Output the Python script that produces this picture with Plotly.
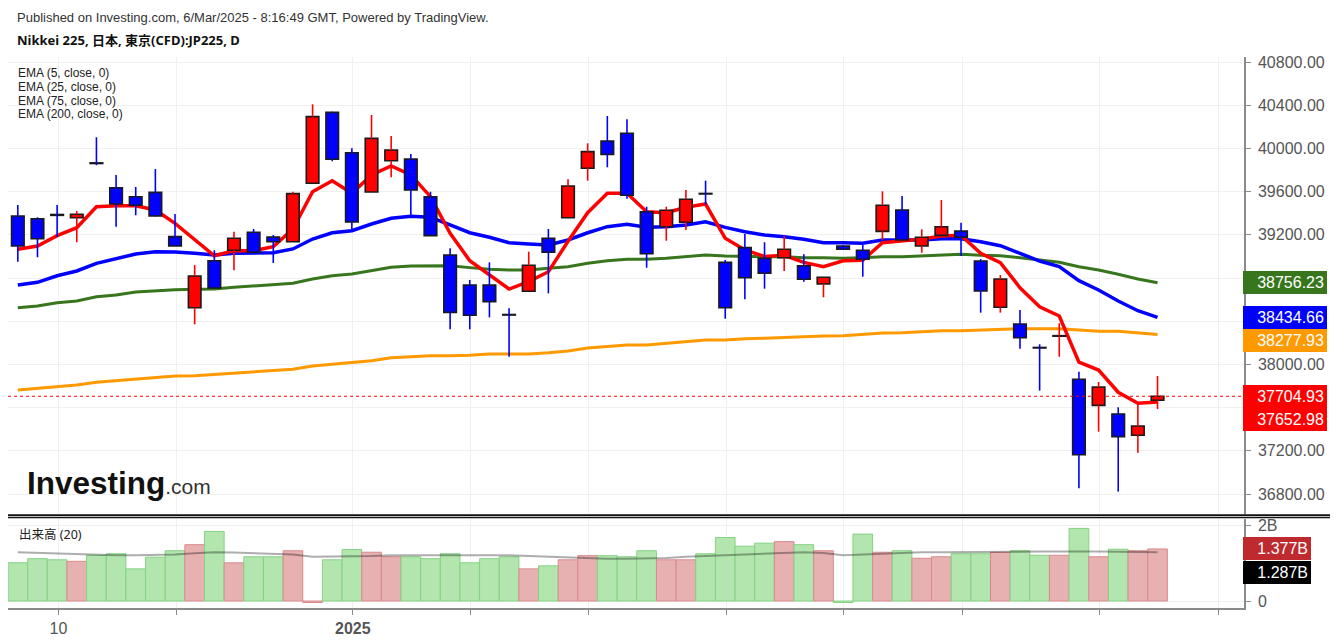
import plotly.graph_objects as go

# ---------------- data ----------------
opens = [39374, 39349, 39388, 39358, 39866, 39636, 39553, 39593, 39183, 38525,
         38960, 39057, 39223, 39180, 39136, 39677, 40334, 39960, 39596, 39886,
         39902, 39553, 39013, 38735, 38735, 38462, 38677, 39168, 39358, 39816,
         40069, 40140, 39414, 39275, 39316, 39583, 38945, 39081, 38982, 38988,
         38914, 38744, 39096, 39057, 39232, 39430, 39096, 39195, 39235, 38957,
         38529, 38374, 38157, 38261, 37862, 37621, 37541, 37344, 37668]
highs = [39476, 39362, 39476, 39420, 40103, 39754, 39643, 39809, 39393, 38920,
         39057, 39229, 39254, 39198, 39599, 40408, 40340, 40001, 40309, 40115,
         39948, 39599, 39075, 38782, 38945, 38519, 39044, 39254, 39714, 40047,
         40300, 40269, 39460, 39460, 39615, 39701, 38967, 39207, 39131, 39192,
         39019, 38810, 39105, 39106, 39603, 39559, 39251, 39522, 39312, 38975,
         38828, 38504, 38186, 38381, 37932, 37837, 37603, 37640, 37893]
lows = [38951, 38992, 39183, 39131, 39844, 39275, 39381, 39370, 39096, 38371,
        38707, 38871, 39038, 38939, 39136, 39677, 39881, 39245, 39596, 39732,
        39383, 39192, 38325, 38325, 38436, 38071, 38677, 38658, 39358, 39701,
        39825, 39534, 38895, 39145, 39245, 39476, 38423, 38603, 38701, 38865,
        38766, 38621, 39060, 38812, 39152, 39152, 39034, 39195, 39004, 38479,
        38479, 38145, 37757, 38071, 36853, 37377, 36822, 37183, 37587]
closes = [39096, 39164, 39380, 39390, 39860, 39485, 39473, 39374, 39096, 38819,
          38707, 39168, 39038, 39136, 39581, 40294, 39899, 39319, 40093, 39985,
          39615, 39192, 38482, 38455, 38581, 38457, 38918, 39038, 39652, 39970,
          39945, 39566, 39025, 39427, 39529, 39578, 38525, 38803, 38844, 39066,
          38788, 38807, 39066, 38973, 39473, 39152, 39177, 39275, 39177, 38680,
          38791, 38247, 38152, 38266, 37164, 37791, 37331, 37430, 37704.93]

ema5 = [39066, 39096, 39192, 39266, 39460, 39469, 39469, 39430, 39306, 39152,
        39006, 39053, 39053, 39090, 39254, 39599, 39701, 39584, 39754, 39837,
        39754, 39553, 39214, 38960, 38828, 38698, 38766, 38858, 39140, 39405,
        39584, 39584, 39414, 39405, 39455, 39485, 39168, 39060, 39000, 39010,
        38945, 38905, 38960, 38965, 39127, 39143, 39160, 39189, 39195, 39029,
        38942, 38710, 38534, 38448, 38020, 37948, 37742, 37640, 37652.98]
ema25 = [38735, 38760, 38821, 38865, 38936, 38982, 39022, 39044, 39041, 39029,
         39013, 39029, 39029, 39034, 39069, 39161, 39219, 39238, 39300, 39353,
         39371, 39362, 39291, 39219, 39177, 39127, 39115, 39106, 39152, 39219,
         39275, 39297, 39269, 39275, 39291, 39321, 39269, 39229, 39198, 39182,
         39158, 39127, 39127, 39121, 39152, 39152, 39152, 39164, 39164, 39136,
         39099, 39029, 38957, 38905, 38775, 38689, 38587, 38497, 38434.66]
ema75 = [38525, 38541, 38571, 38587, 38627, 38643, 38670, 38682, 38692, 38695,
         38698, 38714, 38726, 38738, 38751, 38791, 38821, 38837, 38865, 38899,
         38911, 38914, 38914, 38896, 38881, 38874, 38874, 38890, 38905, 38936,
         38960, 38973, 38973, 38982, 38997, 39013, 39004, 38997, 38997, 38997,
         38988, 38988, 38982, 38988, 38997, 38997, 39004, 39010, 39019, 39010,
         39006, 38988, 38967, 38945, 38905, 38874, 38834, 38791, 38756.23]
ema200 = [37763, 37779, 37794, 37809, 37834, 37849, 37865, 37881, 37893, 37896,
          37908, 37918, 37930, 37942, 37955, 37985, 38001, 38016, 38034, 38062,
          38075, 38081, 38081, 38085, 38096, 38096, 38096, 38108, 38124, 38152,
          38168, 38180, 38180, 38196, 38210, 38226, 38226, 38238, 38242, 38251,
          38257, 38263, 38266, 38279, 38291, 38294, 38303, 38312, 38312, 38319,
          38328, 38331, 38331, 38331, 38319, 38306, 38306, 38294, 38277.93]

volume_b = [1.01, 1.12, 1.09, 1.05, 1.21, 1.25, 0.85, 1.16, 1.33, 1.49,
            1.84, 1.01, 1.17, 1.17, 1.33, -0.04, 1.09, 1.36, 1.29, 1.17,
            1.17, 1.12, 1.25, 1.01, 1.12, 1.17, 0.85, 0.93, 1.09, 1.20,
            1.20, 1.17, 1.33, 1.09, 1.09, 1.25, 1.68, 1.45, 1.53, 1.57,
            1.49, 1.33, -0.04, 1.77, 1.29, 1.33, 1.13, 1.17, 1.25, 1.25,
            1.29, 1.33, 1.21, 1.21, 1.92, 1.17, 1.37, 1.33, 1.377]
vol_ma_b = [1.29, 1.27, 1.25, 1.23, 1.21, 1.21, 1.21, 1.21, 1.23, 1.26,
            1.29, 1.28, 1.26, 1.25, 1.23, 1.17, 1.17, 1.17, 1.19, 1.21,
            1.21, 1.21, 1.21, 1.21, 1.21, 1.21, 1.19, 1.17, 1.17, 1.15,
            1.12, 1.12, 1.12, 1.14, 1.17, 1.19, 1.21, 1.23, 1.25, 1.27,
            1.29, 1.27, 1.21, 1.23, 1.25, 1.27, 1.29, 1.29, 1.29, 1.29,
            1.29, 1.30, 1.31, 1.31, 1.32, 1.31, 1.30, 1.29, 1.287]

x_tick_pos = [2.07, 8.05, 17.05, 23.05, 29.05, 36.08, 42.0, 48.05, 55.07, 61.08]
x_tick_text = ["10", "", "<b>2025</b>", "", "", "", "", "", "", ""]
price_ticks = [36800, 37200, 37600, 38000, 38400, 38800, 39200, 39600, 40000, 40400, 40800]
vol_ticks = [0, 2]
vol_tick_text = ["0", "2B"]

header_text = "Published on Investing.com, 6/Mar/2025 - 8:16:49 GMT, Powered by TradingView."
title_text = "Nikkei 225, 日本, 東京(CFD):JP225, D"
ema_legend = ["EMA (5, close, 0)", "EMA (25, close, 0)", "EMA (75, close, 0)", "EMA (200, close, 0)"]
vol_legend = "出来高 (20)"

# ---------------- styling ----------------
UP, DOWN = "#ff0000", "#0000ff"
EMA_COLORS = ["#ff0000", "#0000ff", "#38761d", "#ff9900"]
W, H = 1336, 641
PL, PR, PT, PB = 8, 1244, 57, 608          # plot area in pixels
MAIN_BOTTOM, VOL_TOP = 514, 519
NUM_FONT = "Liberation Sans, Arial, sans-serif"
TXT_FONT = "Noto Sans, Noto Sans CJK JP, sans-serif"
BOX_PX = 23.5


def px_x(x):
    return (x - PL) / (PR - PL)


def px_y(y):
    return (PB - y) / (PB - PT)


idx = list(range(len(closes)))
up = [c >= o for o, c in zip(opens, closes)]
x_range = [-0.5, -0.5 + (PR - PL) / 19.65]
px_per_price = 0.108
price_per_px = 1 / px_per_price
y_range = [40800 - (MAIN_BOTTOM - 62) * price_per_px, 40800 + (62 - PT) * price_per_px]
vol_px = 37.8
vol_range = [-(PB - 601) / vol_px, (601 - VOL_TOP) / vol_px]


def stacked(values, box_h):
    order = sorted(range(len(values)), key=lambda k: -values[k])
    pos = [None] * len(values)
    prev = None
    for k in order:
        p = values[k] if prev is None else min(values[k], prev - box_h)
        pos[k] = p
        prev = p
    return pos


label_vals = [ema75[-1], ema25[-1], ema200[-1], closes[-1], ema5[-1]]
label_cols = [EMA_COLORS[2], EMA_COLORS[1], EMA_COLORS[3], "#ff0000", "#ff0000"]
label_pos = stacked(label_vals, BOX_PX * price_per_px)

# tick labels hidden behind the value boxes (as in the reference)
price_tick_text = []
for v in price_ticks:
    hidden = any(abs(v - p) * px_per_price < BOX_PX / 2 + 4 for p in label_pos)
    price_tick_text.append("" if hidden else "%.2f" % v)

fig = go.Figure()

# EMA lines (base subplot, drawn below the candles)
for vals, col, w in zip([ema200, ema75, ema25, ema5], EMA_COLORS[::-1], [3, 3, 3.5, 3.5]):
    fig.add_trace(go.Scatter(x=idx, y=vals, mode="lines", line=dict(color=col, width=w),
                             xaxis="x", yaxis="y", hoverinfo="skip"))

# wicks (outside the bodies)
for flag, col in [(True, UP), (False, DOWN)]:
    xs, ys = [], []
    for i, (o, h, l, c) in enumerate(zip(opens, highs, lows, closes)):
        if up[i] != flag:
            continue
        top, bot = max(o, c), min(o, c)
        if h > top:
            xs += [i, i, None]
            ys += [top, h, None]
        if l < bot:
            xs += [i, i, None]
            ys += [bot, l, None]
    fig.add_trace(go.Scatter(x=xs, y=ys, mode="lines", line=dict(color=col, width=1.6),
                             xaxis="x", yaxis="y3", hoverinfo="skip"))

# bodies
fig.add_trace(go.Bar(
    x=idx,
    base=[min(o, c) for o, c in zip(opens, closes)],
    y=[max(abs(c - o), 4) for o, c in zip(opens, closes)],
    width=0.64,
    marker=dict(color=[UP if u else DOWN for u in up], line=dict(color="#1a1a1a", width=1.6)),
    xaxis="x", yaxis="y3", hoverinfo="skip"))

# volume
fig.add_trace(go.Bar(
    x=idx, y=volume_b, width=1.0,
    marker=dict(color=["#e7b1b2" if u else "#b2e6ae" for u in up],
                line=dict(color=["#d98a8c" if u else "#84d282" for u in up], width=1)),
    xaxis="x2", yaxis="y2", hoverinfo="skip"))
fig.add_trace(go.Scatter(x=idx, y=vol_ma_b, mode="lines",
                         line=dict(color="rgba(0,0,0,0.32)", width=2),
                         xaxis="x2", yaxis="y2", hoverinfo="skip"))

GRID = "#f0f0f0"
AXC = "#8a8a8a"
fig.update_layout(
    template="none",
    width=W, height=H, showlegend=False, barmode="overlay",
    margin=dict(l=PL, r=W - PR, t=PT, b=H - PB, autoexpand=False),
    paper_bgcolor="white", plot_bgcolor="white",
    xaxis=dict(domain=[0, 1], range=x_range, anchor="y", tickvals=x_tick_pos, automargin=False,
               showticklabels=False, ticks="", showgrid=True, gridcolor=GRID, zeroline=False,
               showline=False),
    yaxis=dict(domain=[px_y(MAIN_BOTTOM), 1], range=y_range, side="right", anchor="x",
               automargin=False,
               tickvals=price_ticks, ticktext=price_tick_text, ticks="outside", ticklen=5,
               tickcolor=AXC, showline=True, linecolor=AXC, linewidth=1.5,
               showgrid=True, gridcolor=GRID, zeroline=False, ticklabelstandoff=4,
               tickfont=dict(family=NUM_FONT, size=16, color="#555")),
    yaxis3=dict(overlaying="y", range=y_range, visible=False, side="right", automargin=False),
    xaxis2=dict(domain=[0, 1], range=x_range, anchor="y2", tickvals=x_tick_pos, automargin=False,
                ticktext=x_tick_text, ticks="outside", ticklen=5, tickcolor=AXC,
                showline=True, linecolor=AXC, linewidth=2, showgrid=True, gridcolor=GRID,
                zeroline=False, tickfont=dict(family=NUM_FONT, size=16, color="#555")),
    yaxis2=dict(domain=[0, px_y(VOL_TOP)], range=vol_range, side="right", anchor="x2",
                automargin=False,
                tickvals=vol_ticks, ticktext=vol_tick_text, ticks="outside", ticklen=5,
                tickcolor=AXC, showline=True, linecolor=AXC, linewidth=1.5,
                showgrid=True, gridcolor=GRID, zeroline=False, ticklabelstandoff=4,
                tickfont=dict(family=NUM_FONT, size=16, color="#555")),
)

# last price dotted line
fig.add_shape(type="line", xref="paper", x0=0, x1=1, yref="y", y0=closes[-1], y1=closes[-1],
              line=dict(color="#ff0000", width=1, dash="dot"), layer="above")
# panel separator
for yy, lw in [(515.3, 2), (517.6, 1.3)]:
    fig.add_shape(type="line", xref="paper", yref="paper", x0=0, x1=px_x(1330),
                  y0=px_y(yy), y1=px_y(yy), line=dict(color="#111", width=lw), layer="above")

ann = []
ann.append(dict(text=header_text, x=px_x(15), y=px_y(17), xref="paper", yref="paper",
                xanchor="left", yanchor="middle", showarrow=False,
                font=dict(family=NUM_FONT, size=13, color="#333")))
ann.append(dict(text="<b>" + title_text + "</b>", x=px_x(15), y=px_y(40), xref="paper", yref="paper",
                xanchor="left", yanchor="middle", showarrow=False,
                font=dict(family=TXT_FONT, size=13, color="#111")))
for k, t in enumerate(ema_legend):
    ann.append(dict(text=t, x=px_x(17), y=px_y(72.7 + 13.9 * k), xref="paper", yref="paper",
                    xanchor="left", yanchor="middle", showarrow=False, borderpad=0,
                    font=dict(family=NUM_FONT, size=12, color="#222")))
ann.append(dict(text=vol_legend, x=px_x(17), y=px_y(534), xref="paper", yref="paper",
                xanchor="left", yanchor="middle", showarrow=False,
                font=dict(family=TXT_FONT, size=12.5, color="#222")))
# logo
ann.append(dict(text="<b>Investing</b><span style='font-size:21px;font-weight:normal;color:#333'>.com</span>",
                x=px_x(25), y=px_y(483), xref="paper", yref="paper", xanchor="left", yanchor="middle",
                showarrow=False, font=dict(family=NUM_FONT, size=31.5, color="#111")))

for v, p, col in zip(label_vals, label_pos, label_cols):
    ann.append(dict(text="%.2f" % v, x=1, y=p, xref="paper", yref="y", xanchor="left",
                    yanchor="middle", xshift=-1, showarrow=False, bgcolor=col, width=78,
                    height=17, borderpad=3, borderwidth=0, align="right",
                    font=dict(family=NUM_FONT, size=16, color="white")))
vlabel_vals = [volume_b[-1], vol_ma_b[-1]]
vlabel_cols = ["#be2a2e", "#000000"]
for v, p, col in zip(vlabel_vals, stacked(vlabel_vals, BOX_PX / vol_px), vlabel_cols):
    ann.append(dict(text="%.3fB" % v, x=1, y=p, xref="paper", yref="y2", xanchor="left",
                    yanchor="middle", xshift=-1, showarrow=False, bgcolor=col, width=62,
                    height=17, borderpad=3, borderwidth=0, align="right",
                    font=dict(family=NUM_FONT, size=16, color="white")))
fig.update_layout(annotations=ann)

fig.write_html("out.html")
